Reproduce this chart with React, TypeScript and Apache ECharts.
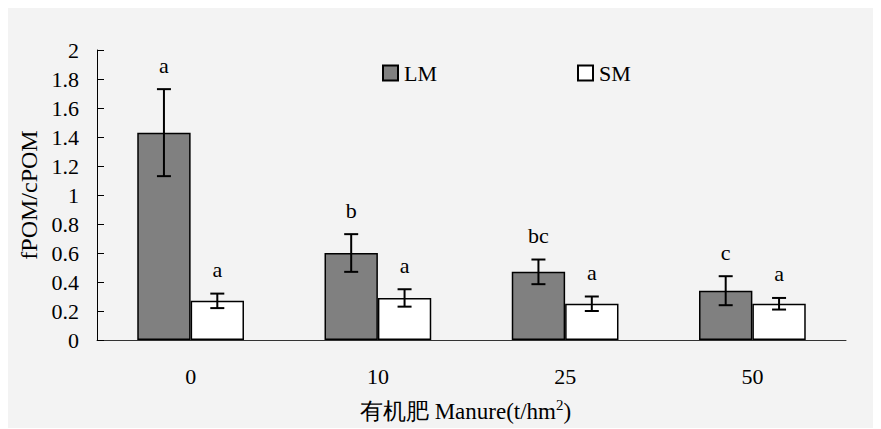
import React, { useEffect, useRef } from "react";
import * as echarts from "echarts";

const categories = ["0", "10", "25", "50"];
const lmMean = [1.43, 0.6, 0.47, 0.34];
const lmErr = [0.3, 0.13, 0.085, 0.1];
const smMean = [0.27, 0.29, 0.25, 0.25];
const smErr = [0.05, 0.06, 0.05, 0.04];
const lmLetters = ["a", "b", "bc", "c"];
const smLetters = ["a", "a", "a", "a"];

const FONT = "Liberation Serif";
const CAT_GAP = 0.43;

function errSeries(name: string, means: number[], errs: number[], letters: string[], sign: number) {
  return {
    type: "custom",
    name,
    z: 5,
    clip: false,
    data: means.map((m, i) => [i, m, errs[i]]),
    renderItem: (params: any, api: any) => {
      const i = api.value(0);
      const m = api.value(1);
      const e = api.value(2);
      const bw = api.size([1, 0])[0];
      const off = (sign * bw * (1 - CAT_GAP)) / 4;
      const top = api.coord([i, m + e]);
      const bot = api.coord([i, m - e]);
      const x = top[0] + off;
      const cap = 7;
      const ls = { stroke: "#000", lineWidth: 2 };
      return {
        type: "group",
        children: [
          { type: "line", shape: { x1: x, y1: top[1], x2: x, y2: bot[1] }, style: ls },
          { type: "line", shape: { x1: x - cap, y1: top[1], x2: x + cap, y2: top[1] }, style: ls },
          { type: "line", shape: { x1: x - cap, y1: bot[1], x2: x + cap, y2: bot[1] }, style: ls },
          {
            type: "text",
            x: x,
            y: top[1] - 24,
            style: {
              text: letters[params.dataIndex],
              fontSize: 22,
              fontFamily: FONT,
              fill: "#000",
              align: "center",
              verticalAlign: "middle",
            },
          },
        ],
      };
    },
  };
}

export default function App() {
  const ref = useRef<HTMLDivElement>(null);
  useEffect(() => {
    const chart = echarts.init(ref.current!, null, { renderer: "svg" });
    chart.setOption({
      animation: false,
      backgroundColor: "#f3f3f3",
      textStyle: { fontFamily: FONT },
      legend: {
        data: ["LM", "SM"],
        left: 369,
        top: 49,
        icon: "rect",
        itemWidth: 15,
        itemHeight: 15,
        itemGap: 140,
        textStyle: { fontSize: 22, color: "#000", fontFamily: FONT, padding: [0, 0, 0, 1] },
      },
      grid: { left: 89, top: 42, width: 749, height: 292 },
      xAxis: {
        type: "category",
        data: categories,
        axisLine: { lineStyle: { color: "#333", width: 1 } },
        axisTick: { inside: true, length: 7, lineStyle: { color: "#555" } },
        axisLabel: { fontSize: 22, color: "#000", margin: 25, fontFamily: FONT },
        name: "有机肥 Manure(t/hm{sup|2})",
        nameLocation: "middle",
        nameGap: 57,
        nameTextStyle: {
          fontSize: 23,
          color: "#000",
          fontFamily: FONT,
          padding: [0, 12, 0, 0],
          rich: { sup: { fontSize: 15, fontFamily: FONT, color: "#000", padding: [0, 0, 14, 0] } },
        },
      },
      yAxis: {
        type: "value",
        min: 0,
        max: 2,
        interval: 0.2,
        splitLine: { show: false },
        axisLine: { show: true, lineStyle: { color: "#000", width: 1 } },
        axisTick: { show: true, inside: true, length: 7, lineStyle: { color: "#000" } },
        axisLabel: { fontSize: 22, color: "#000", margin: 18, fontFamily: FONT },
        name: "fPOM/cPOM",
        nameLocation: "middle",
        nameGap: 43,
        nameTextStyle: { fontSize: 24, color: "#000", fontFamily: FONT, padding: [0, 0, 0, 0] },
      },
      series: [
        {
          name: "LM",
          type: "bar",
          data: lmMean,
          barGap: "0%",
          barCategoryGap: "43%",
          itemStyle: { color: "#808080", borderColor: "#000", borderWidth: 1.5 },
        },
        {
          name: "SM",
          type: "bar",
          data: smMean,
          itemStyle: { color: "#ffffff", borderColor: "#000", borderWidth: 1.5 },
        },
        errSeries("LM-err", lmMean, lmErr, lmLetters, -1),
        errSeries("SM-err", smMean, smErr, smLetters, 1),
      ],
    });
    return () => chart.dispose();
  }, []);
  return <div ref={ref} style={{ width: 865, height: 420 }} />;
}
